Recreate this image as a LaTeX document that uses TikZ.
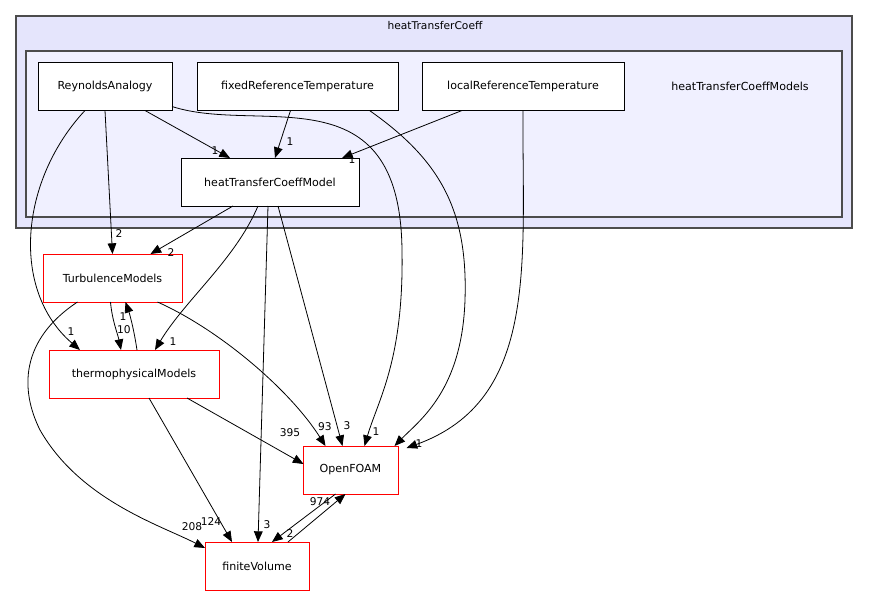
\documentclass[tikz,border=0pt]{standalone}
\usepackage{fontspec}
\setmainfont{DejaVu Sans}
\usetikzlibrary{arrows.meta,calc}
\begin{document}
\begin{tikzpicture}[x=0.75pt,y=-0.75pt,
 box/.style={draw=black,fill=white,minimum width=#1,minimum height=36pt,inner sep=0pt,font=\fontsize{8.3}{10}\selectfont},
 rbox/.style={box=#1,draw=red},
 e/.style={-{Triangle[length=8pt,width=6.5pt]},line width=0.6pt},
 lb/.style={font=\fontsize{8}{9}\selectfont,inner sep=0pt}]
\useasboundingbox (0,0) rectangle (869,596);
\node[draw=black!70,fill=black!13!blue!10!white,line width=0.8pt,minimum width=627pt,minimum height=159pt,inner sep=0pt] (outer) at (434,122) {};
\node[lb] (outl) at (435,26) {heatTransferCoeff};
\node[draw=black!70,fill=blue!6!white,line width=0.8pt,minimum width=612pt,minimum height=124.5pt,inner sep=0pt] (inner) at (434,134) {};
\node[lb,font=\fontsize{8.3}{10}\selectfont] (innl) at (740,86) {heatTransferCoeffModels};
\node[box=100.5pt] (rey) at (105,86.5) {ReynoldsAnalogy};
\node[box=150.75pt] (fix) at (297.5,86.5) {fixedReferenceTemperature};
\node[box=151.5pt] (loc) at (523,86.5) {localReferenceTemperature};
\node[box=133.5pt] (htc) at (270,182) {heatTransferCoeffModel};
\node[rbox=104.25pt] (tur) at (112.5,278) {TurbulenceModels};
\node[rbox=127.5pt] (thm) at (134,374) {thermophysicalModels};
\node[rbox=71.25pt] (of) at (350.5,470) {OpenFOAM};
\node[rbox=78pt] (fv) at (257,566) {finiteVolume};
% edges
\draw[e] ($(rey)+(40,24)$) -- ($(htc)+(-40,-24)$);
\node[lb] (l1) at (215,151) {1};
\draw[e] ($(fix)+(-7,24)$) -- ($(htc)+(5,-24)$);
\node[lb] (l2) at (290,142) {1};
\draw[e] ($(loc)+(-61,24)$) -- ($(htc)+(72,-24)$);
\node[lb] (l3) at (352,160) {1};
\draw[e] ($(rey)+(0,24)$) -- ($(tur)+(0,-24)$);
\node[lb] (l4) at (119,234) {2};
\draw[e] ($(rey)+(-20,24)$) .. controls (20,180) and (10,290) .. ($(thm)+(-54,-24)$);
\node[lb] (l5) at (71,332) {1};
\draw[e] ($(rey)+(67,20)$) .. controls (260,135) and (400,70) .. (402,250) .. controls (404,360) and (378,400) .. ($(of)+(14,-24)$);
\node[lb] (l6) at (376,432) {1};
\draw[e] ($(fix)+(72,24)$) .. controls (440,160) and (468,210) .. (465,300) .. controls (462,390) and (420,420) .. ($(of)+(44,-24)$);
\draw[e] ($(loc)+(0,24)$) .. controls (522,260) and (540,400) .. ($(of)+(56,-22)$);
\node[lb] (l7) at (419,444) {1};
\draw[e] ($(htc)+(-37,24)$) -- ($(tur)+(38,-24)$);
\node[lb] (l8) at (171,253) {2};
\draw[e] ($(htc)+(-12,24)$) .. controls (235,260) and (185,300) .. ($(thm)+(21,-24)$);
\node[lb] (l9) at (173,342) {1};
\draw[e] ($(htc)+(-2,24)$) -- ($(fv)+(1,-24)$);
\node[lb] (l10) at (267,525) {3};
\draw[e] ($(htc)+(8,24)$) -- ($(of)+(-8,-24)$);
\node[lb] (l11) at (347,426) {3};
\draw[e] ($(tur)+(-2,24)$) .. controls (112,320) and (118,335) .. ($(thm)+(-13,-24)$);
\node[lb] (l12) at (124,330) {10};
\draw[e] ($(thm)+(3,-24)$) .. controls (134,330) and (130,315) .. ($(tur)+(13,24)$);
\node[lb] (l13) at (123,317) {1};
\draw[e] ($(tur)+(45,24)$) .. controls (220,330) and (290,390) .. ($(of)+(-25,-24)$);
\node[lb] (l14) at (325,427) {93};
\draw[e] ($(tur)+(-35,24)$) .. controls (20,340) and (20,390) .. (40,430) .. controls (80,500) and (160,525) .. ($(fv)+(-52,-18)$);
\node[lb] (l15) at (192,527) {208};
\draw[e] ($(thm)+(53,24)$) -- ($(of)+(-47,-6)$);
\node[lb] (l16) at (290,433) {395};
\draw[e] ($(thm)+(15,24)$) -- ($(fv)+(-25,-24)$);
\node[lb] (l17) at (211,522) {124};
\draw[e] ($(of)+(-15,24)$) -- ($(fv)+(15,-24)$);
\node[lb] (l18) at (290,534) {2};
\draw[e] ($(fv)+(31,-24)$) -- ($(of)+(-5,24)$);
\node[lb] (l19) at (320,502) {974};
\end{tikzpicture}
\end{document}
